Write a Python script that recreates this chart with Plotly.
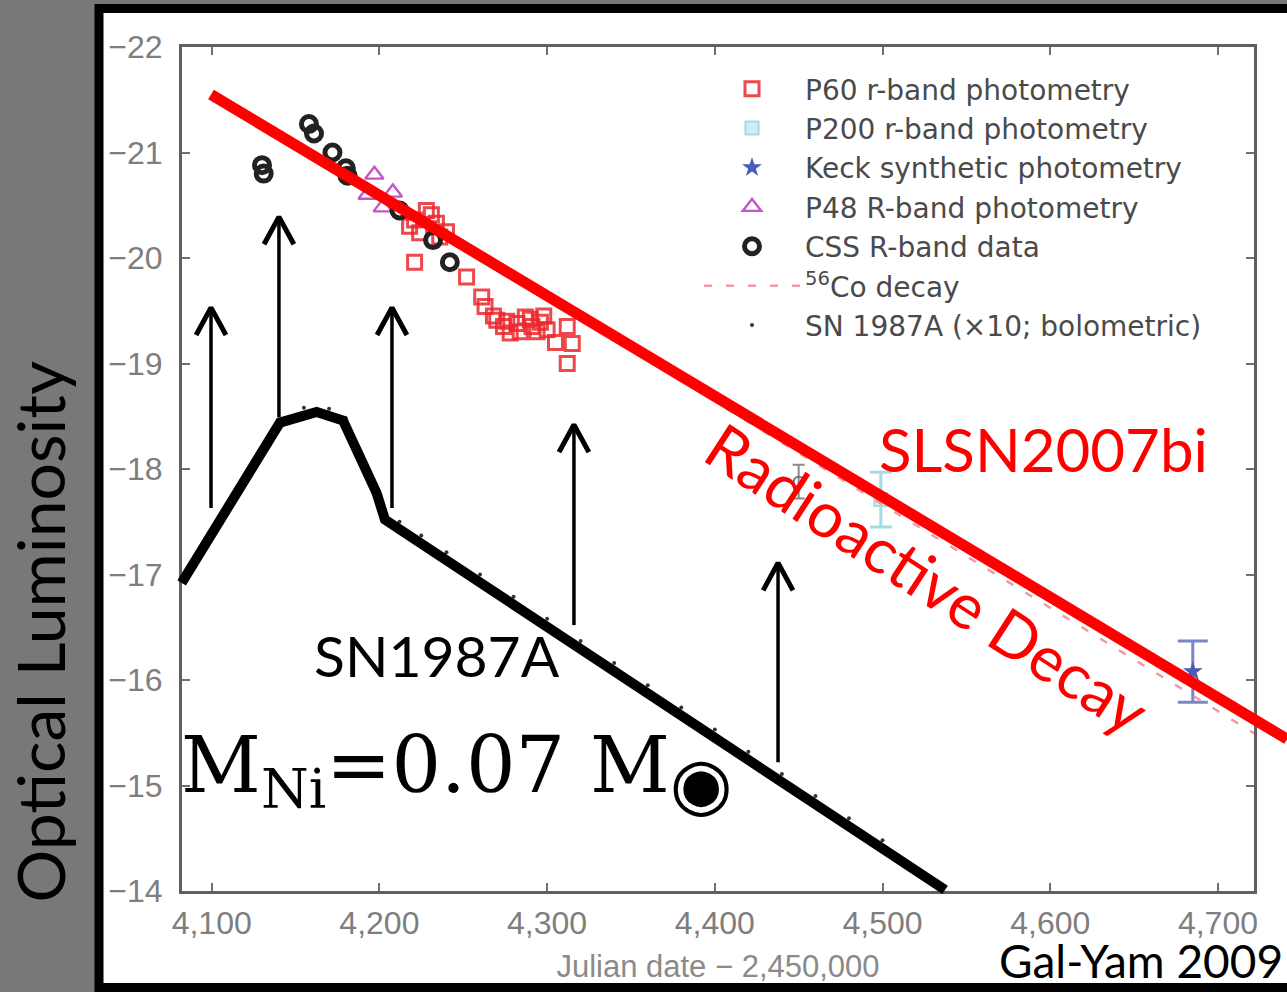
import plotly.graph_objects as go

# ---------------- data ----------------
# P60 r-band photometry (Julian date - 2,450,000 ; absolute magnitude)
p60_x = [4221, 4228, 4234, 4224, 4236, 4231, 4218, 4240, 4221, 4252, 4261, 4263,
         4268, 4270, 4274, 4276, 4278, 4282, 4284, 4287, 4290, 4291, 4294, 4296,
         4298, 4300, 4305, 4312, 4315, 4312]
p60_y = [-20.36, -20.45, -20.33, -20.24, -20.20, -20.41, -20.30, -20.25, -19.96, -19.82, -19.63, -19.54,
         -19.45, -19.41, -19.35, -19.40, -19.29, -19.38, -19.30, -19.44, -19.42, -19.35, -19.30, -19.39,
         -19.45, -19.32, -19.20, -19.35, -19.19, -19.00]
# P200 r-band photometry
p200_x = [4499]
p200_y = [-17.71]
p200_err = [0.26]
# Keck synthetic photometry
keck_x = [4685]
keck_y = [-16.08]
keck_err = [0.29]
# P48 R-band photometry
p48_x = [4197, 4193, 4208, 4202]
p48_y = [-20.79, -20.60, -20.62, -20.48]
# CSS R-band data
css_x = [4130, 4131, 4158, 4161, 4172, 4180, 4181, 4212, 4232, 4242]
css_y = [-20.88, -20.80, -21.27, -21.18, -21.00, -20.85, -20.78, -20.45, -20.17, -19.96]
css_late_x = [4450]
css_late_y = [-17.88]
css_late_err = [0.16]
# 56Co decay
co_x = [4250, 4722]
co_y = [-20.11, -15.49]
# SN 1987A (x10; bolometric)
sn87_x = [4083, 4098, 4112, 4126, 4140, 4155, 4170, 4180, 4190, 4200, 4212, 4225, 4240,
          4260, 4280, 4300, 4320, 4340, 4360, 4380, 4400, 4420, 4440, 4460, 4480, 4500]
sn87_y = [-16.96, -17.37, -17.75, -18.11, -18.47, -18.58, -18.57, -18.48, -18.12, -17.73, -17.50, -17.37, -17.21,
          -17.00, -16.79, -16.58, -16.37, -16.16, -15.95, -15.74, -15.53, -15.32, -15.11, -14.90, -14.69, -14.48]

# slide overlays
decay_line_x = [4099.6, 4741.2]
decay_line_y = [-21.55, -15.44]
sn_curve_x = [4082.1, 4140.7, 4162.6, 4178.3, 4198.4, 4203.3, 4537.3]
sn_curve_y = [-16.92, -18.44, -18.54, -18.46, -17.77, -17.52, -14.01]
arrow_x = [4099.6, 4140.1, 4207.5, 4316.0, 4437.7]
arrow_from = [-17.63, -18.49, -17.63, -16.52, -15.22]
arrow_to = [-19.53, -20.39, -19.53, -18.42, -17.11]

x_ticks = [4100, 4200, 4300, 4400, 4500, 4600, 4700]
y_ticks = [-22, -21, -20, -19, -18, -17, -16, -15, -14]
X_RANGE = [4082.3, 4721.5]
Y_RANGE = [-14, -22]

# ---------------- layout geometry ----------------
W, H = 1287, 992
PL, PR, PT, PB = 182, 1254, 47, 891
dom_x = [PL / W, PR / W]
dom_y = [(H - PB) / H, (H - PT) / H]
ppx = (X_RANGE[1] - X_RANGE[0]) / (PR - PL)
ppy = (Y_RANGE[1] - Y_RANGE[0]) / (PB - PT)
X2_RANGE = [X_RANGE[0] - PL * ppx, X_RANGE[1] + (W - PR) * ppx]
Y2_RANGE = [Y_RANGE[0] - (H - PB) * ppy, Y_RANGE[1] + PT * ppy]

FIGFONT = "Liberation Sans"
SLIDEFONT = "Lato"

fig = go.Figure()

fig.add_trace(go.Scatter(x=p60_x, y=p60_y, mode="markers", name="P60 r-band photometry",
                         marker=dict(symbol="square-open", size=14, color="rgba(235,40,45,0.85)",
                                     line=dict(width=3))))
fig.add_trace(go.Scatter(x=p200_x, y=p200_y, mode="markers", name="P200 r-band photometry",
                         marker=dict(symbol="square", size=13, color="#cdeef3",
                                     line=dict(width=2, color="#a6dbe6")),
                         error_y=dict(type="data", array=p200_err, color="#a6dbe6", thickness=3, width=11)))
fig.add_trace(go.Scatter(x=keck_x, y=keck_y, mode="markers", name="Keck synthetic photometry",
                         marker=dict(symbol="star", size=15, color="#4a5bb8"),
                         error_y=dict(type="data", array=keck_err, color="#7b86c8", thickness=3, width=15)))
fig.add_trace(go.Scatter(x=p48_x, y=p48_y, mode="markers", name="P48 R-band photometry",
                         marker=dict(symbol="triangle-up-open", size=16, color="#c655c6",
                                     line=dict(width=2.4))))
fig.add_trace(go.Scatter(x=css_x, y=css_y, mode="markers", name="CSS R-band data",
                         marker=dict(symbol="circle-open", size=15, color="#222222",
                                     line=dict(width=5))))
fig.add_trace(go.Scatter(x=co_x, y=co_y, mode="lines", name="<sup>56</sup>Co decay",
                         line=dict(color="#f29aa2", width=2.5, dash="8px,14px")))
fig.add_trace(go.Scatter(x=sn87_x, y=sn87_y, mode="markers", name="SN 1987A (×10; bolometric)",
                         marker=dict(symbol="circle", size=4, color="#333333")))
fig.add_trace(go.Scatter(x=css_late_x, y=css_late_y, mode="markers", showlegend=False,
                         marker=dict(symbol="circle-open", size=10, color="#777777", line=dict(width=2)),
                         error_y=dict(type="data", array=css_late_err, color="#888888", thickness=2, width=6)))

# ---- overlays on a full-figure axis pair (same data scale) ----
fig.add_trace(go.Scatter(x=decay_line_x, y=decay_line_y, mode="lines", showlegend=False,
                         xaxis="x2", yaxis="y2", line=dict(color="#ff0000", width=11)))
fig.add_trace(go.Scatter(x=sn_curve_x, y=sn_curve_y, mode="lines", showlegend=False,
                         xaxis="x2", yaxis="y2", line=dict(color="#000000", width=10)))

head_dx = 8.9
head_dy = 0.26
shaft_x, shaft_y, head_x, head_y = [], [], [], []
for ax_, y0_, y1_ in zip(arrow_x, arrow_from, arrow_to):
    shaft_x += [ax_, ax_, None]
    shaft_y += [y0_, y1_ + 0.02, None]
    head_x += [ax_ - head_dx, ax_, ax_ + head_dx, None]
    head_y += [y1_ + head_dy, y1_, y1_ + head_dy, None]
fig.add_trace(go.Scatter(x=shaft_x, y=shaft_y, mode="lines", showlegend=False,
                         xaxis="x2", yaxis="y2", line=dict(color="#000000", width=3.5)))
fig.add_trace(go.Scatter(x=head_x, y=head_y, mode="lines", showlegend=False,
                         xaxis="x2", yaxis="y2", line=dict(color="#000000", width=5)))

ann = [
    dict(text="Optical Luminosity", x=3997.6, y=-16.46, textangle=-90,
         font=dict(family=SLIDEFONT, size=66, color="#000000")),
    dict(text="SN1987A", x=4234.4, y=-16.24,
         font=dict(family=SLIDEFONT, size=57, color="#000000")),
    dict(text="SLSN2007bi", x=4595.7, y=-18.19,
         font=dict(family=SLIDEFONT, size=60, color="#ff0000")),
    dict(text="Radioactive Decay", x=4527.0, y=-16.97, textangle=33,
         font=dict(family=SLIDEFONT, size=63, color="#ff0000")),
    dict(text="Gal-Yam 2009", x=4568.4, y=-13.34, xanchor="left",
         font=dict(family=SLIDEFONT, size=46, color="#000000")),
    dict(text="M<sub>Ni</sub>=0.07 M<sub><span style='font-size:72px'>◉</span></sub>",
         x=4080.5, y=-15.12, xanchor="left",
         font=dict(family="DejaVu Serif", size=78, color="#000000")),
]
for a in ann:
    a.update(xref="x2", yref="y2", showarrow=False)

axis_common = dict(showline=True, linecolor="#606060", linewidth=3, mirror="ticks",
                   ticks="inside", ticklen=8, tickwidth=2, tickcolor="#707070",
                   showgrid=False, zeroline=False,
                   tickfont=dict(family=FIGFONT, size=32, color="#7e7e7e"))

fig.update_layout(
    width=W, height=H,
    margin=dict(l=0, r=0, t=0, b=0, pad=0, autoexpand=False),
    paper_bgcolor="#787878",
    plot_bgcolor="rgba(0,0,0,0)",
    xaxis=dict(domain=dom_x, range=X_RANGE, tickvals=x_ticks, tickformat=",d",
               anchor="y", ticklabelstandoff=2,
               title=dict(text="Julian date − 2,450,000", standoff=15,
                          font=dict(family=FIGFONT, size=31, color="#8a8a8a")),
               **axis_common),
    yaxis=dict(domain=dom_y, range=Y_RANGE, tickvals=y_ticks, anchor="x",
               ticklabelstandoff=10, **axis_common),
    xaxis2=dict(domain=[0, 1], range=X2_RANGE, anchor="y2", visible=False),
    yaxis2=dict(domain=[0, 1], range=Y2_RANGE, anchor="x2", visible=False),
    legend=dict(x=699 / W, y=1 - 64 / H, xanchor="left", yanchor="top",
                bgcolor="rgba(0,0,0,0)", itemwidth=96,
                font=dict(family="DejaVu Sans", size=28, color="#4a4a4a")),
    shapes=[dict(type="rect", xref="paper", yref="paper", layer="below",
                 x0=99 / W, x1=1300 / W, y0=1 - 987.5 / H, y1=1 - 8.5 / H,
                 fillcolor="#ffffff", line=dict(color="#000000", width=9))],
    annotations=ann,
    showlegend=True,
)

fig.write_html("out.html")
